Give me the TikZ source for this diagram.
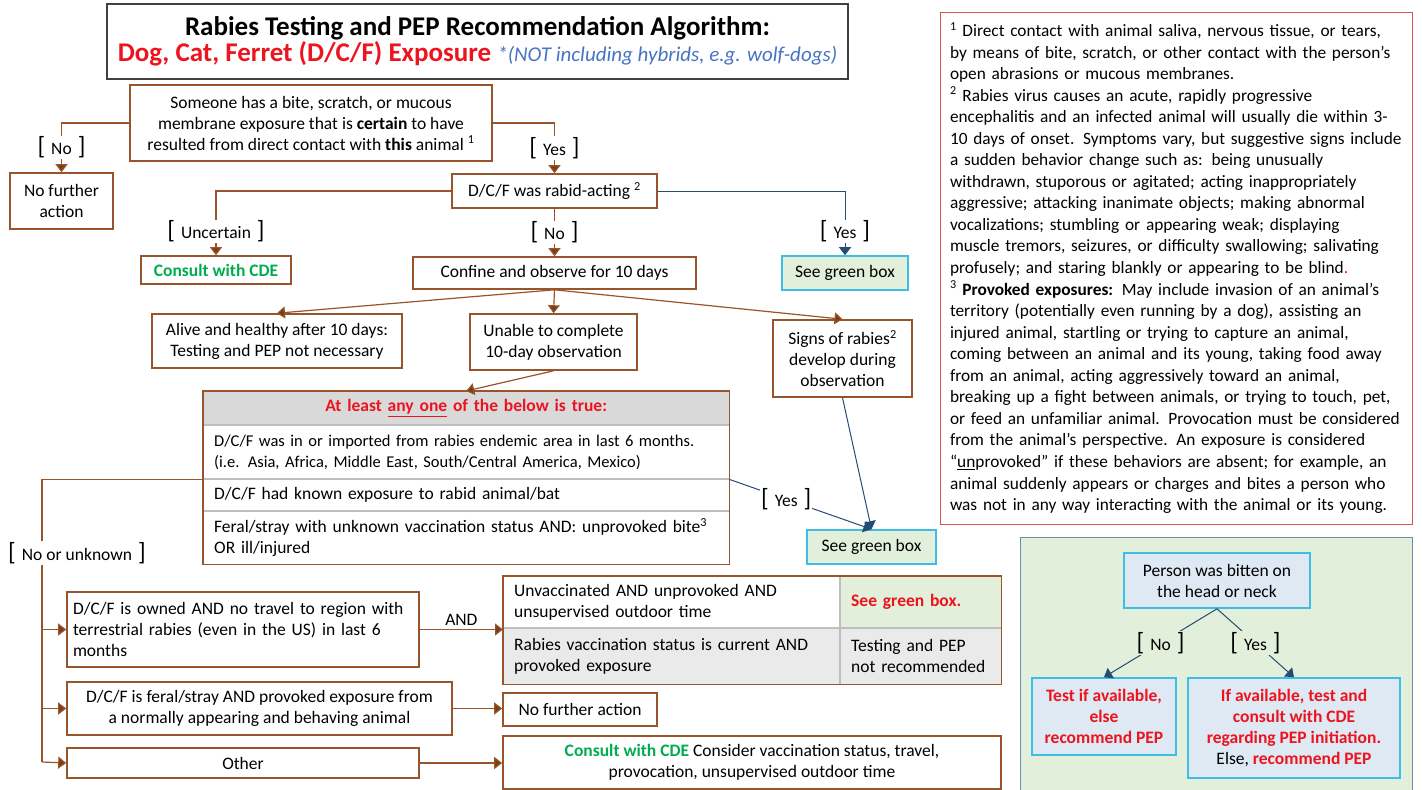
\documentclass[tikz,border=0pt]{standalone}
\usepackage{fontspec}
\setmainfont{Carlito}
\usepackage{tikz}
\usetikzlibrary{calc}
\usetikzlibrary{arrows.meta}
\usepackage{color}
\definecolor{bark}{RGB}{152, 84, 42}
\definecolor{barkdark}{RGB}{122, 62, 22}
\definecolor{sky}{RGB}{62, 190, 228}
\definecolor{navy}{RGB}{36, 76, 118}
\definecolor{mint}{RGB}{226, 239, 218}
\definecolor{ice}{RGB}{222, 233, 244}
\definecolor{alarm}{RGB}{236, 20, 30}
\definecolor{leaf}{RGB}{0, 172, 80}
\definecolor{cornflower}{RGB}{70, 116, 196}
\definecolor{notered}{RGB}{222, 80, 80}
\definecolor{slate}{RGB}{112, 140, 168}
\definecolor{rule}{RGB}{190, 190, 190}
\definecolor{hdrgray}{RGB}{217, 217, 217}
\definecolor{rowgray}{RGB}{234, 234, 234}
\newcommand{\bodyfont}{\fontsize{17.5}{21}\selectfont}
\newcommand{\tightfont}{\fontsize{16.5}{21}\selectfont}
\newcommand{\notefont}{\fontsize{17.3}{21.55}\selectfont}
\newcommand{\brk}[1]{{\fontsize{25}{25}\selectfont[}\hspace{6pt}#1\hspace{6pt}{\fontsize{25}{25}\selectfont]}}
\newcommand{\cde}{\textcolor{leaf}{\textbf{Consult with CDE}}}
\newcommand{\alert}[1]{\textcolor{alarm}{\textbf{#1}}}
\tikzset{
  box/.style     ={draw=bark, line width=1.6pt, fill=white, align=center, font=\bodyfont, inner sep=2pt},
  greenbox/.style={box, draw=sky, fill=mint},
  icebox/.style  ={box, draw=sky, fill=ice},
  cell/.style    ={anchor=north west, inner xsep=11pt, inner ysep=0pt, align=left, font=\bodyfont},
  arr/.style     ={draw=bark, line width=1.2pt, -{Triangle[width=12pt, length=8pt, fill=barkdark]}},
  barr/.style    ={draw=navy, line width=1pt, -{Triangle[width=12pt, length=8pt]}},
  lbl/.style     ={fill=white, inner sep=1pt, font=\bodyfont},
}
\begin{document}
\begin{tikzpicture}[x=1pt, y=-1pt]
  \useasboundingbox (0,0) rectangle (1422,790);
  \node[draw=black!75, line width=1.3pt, minimum width=741pt, minimum height=75pt, align=center, inner sep=0pt] (title) at (477.5,41.5)
      {\fontsize{27}{32}\selectfont\textbf{Rabies Testing and PEP Recommendation Algorithm:}\\
       \fontsize{27}{32}\selectfont\alert{Dog, Cat, Ferret (D/C/F) Exposure} {\fontsize{21}{32}\selectfont\textcolor{cornflower}{\textit{*(NOT including hybrids, e.g. wolf-dogs)}}}};
  \node[box, minimum width=362pt, minimum height=76pt] (someone)  at (311,123)
      {Someone has a bite, scratch, or mucous\\membrane exposure that is \textbf{certain} to have\\resulted from direct contact with \textbf{this} animal \textsuperscript{1}};
  \node[box, minimum width=103pt, minimum height=56pt] (nofa)     at (61.5,201)   {No further\\action};
  \node[box, minimum width=205pt, minimum height=34pt] (rabid)    at (554.5,191)  {D/C/F was rabid-acting \textsuperscript{2}};
  \node[box, minimum width=150pt, minimum height=28pt] (consult)  at (216,270)    {\cde};
  \node[box, minimum width=283pt, minimum height=32pt] (confine)  at (554.5,273)  {Confine and observe for 10 days};
  \node[greenbox, minimum width=126pt, minimum height=34pt] (seegreen) at (845,273) {See green box};
  \node[box, minimum width=250pt, minimum height=54pt] (alive)    at (277,341)    {Alive and healthy after 10 days:\\Testing and PEP not necessary};
  \node[box, minimum width=167pt, minimum height=56pt] (unable)   at (553.5,342)  {Unable to complete\\10-day observation};
  \node[box, minimum width=139pt, minimum height=77pt] (signs)    at (842.5,358.5){Signs of rabies\textsuperscript{2}\\develop during\\observation};
  \node[cell, align=center, fill=hdrgray, minimum height=34pt, text width=504pt] (hdr)  at (203,391)
      {\alert{At least \underline{any one} of the below is true:}};
  \node[cell, fill=white, minimum height=54pt, text width=504pt, font=\tightfont] (row1) at (203,425)
      {D/C/F was in or imported from rabies endemic area in last 6 months.\\(i.e. Asia, Africa, Middle East, South/Central America, Mexico)};
  \node[cell, fill=white, minimum height=32pt, text width=504pt] (row2) at (203,479)
      {D/C/F had known exposure to rabid animal/bat};
  \node[cell, fill=white, minimum height=53pt, text width=504pt] (row3) at (203,511)
      {Feral/stray with unknown vaccination status AND: unprovoked bite\textsuperscript{3}\\OR ill/injured};
  \draw[rule, line width=1.4pt] (row1.north west) -- (row1.north east);
  \draw[rule, line width=1.4pt] (row2.north west) -- (row2.north east);
  \draw[rule, line width=1.4pt] (row3.north west) -- (row3.north east);
  \draw[bark, line width=1.6pt] (hdr.north west) rectangle (row3.south east);
  \node[greenbox, minimum width=129pt, minimum height=34pt] (seegreenb) at (871.5,547) {See green box};
  \node[box, align=left, inner xsep=6pt, minimum width=352pt, minimum height=75pt, text width=340pt] (owned) at (243,629.5)
      {D/C/F is owned AND no travel to region with\\terrestrial rabies (even in the US) in last 6\\months};
  \node[box, minimum width=385pt, minimum height=53pt] (feral)    at (259.5,708.5)
      {D/C/F is feral/stray AND provoked exposure from\\a normally appearing and behaving animal};
  \node[box, minimum width=352pt, minimum height=30pt] (other)    at (243,763)    {Other};
  \node[cell, fill=white,   minimum height=52pt, text width=315pt] (c11) at (503,576) {Unvaccinated AND unprovoked AND\\unsupervised outdoor time};
  \node[cell, fill=mint,    minimum height=52pt, text width=139pt] (c12) at (840,576) {\alert{See green box.}};
  \node[cell, fill=rowgray, minimum height=56pt, text width=315pt] (c21) at (503,628) {Rabies vaccination status is current AND\\provoked exposure};
  \node[cell, fill=rowgray, minimum height=56pt, text width=139pt] (c22) at (840,628) {Testing and PEP\\not recommended};
  \draw[rule, line width=1.4pt] (c12.north west) -- (c22.south west);
  \draw[rule, line width=1.4pt] (c21.north west) -- (c22.north east);
  \draw[bark, line width=1.6pt] (c11.north west) rectangle (c22.south east);
  \node[box, minimum width=154pt, minimum height=33pt] (nofab)    at (580,709.5)  {No further action};
  \node[box, minimum width=498pt, minimum height=53pt] (consultb) at (752,762.5)
      {\cde{} Consider vaccination status, travel,\\provocation, unsupervised outdoor time};
  \node[draw=notered, line width=1pt, minimum width=472pt, minimum height=512pt, text width=452pt, align=left, font=\notefont] (notes) at (1176,268)
      {\textsuperscript{1} Direct contact with animal saliva, nervous tissue, or tears,\\
       by means of bite, scratch, or other contact with the person’s\\
       open abrasions or mucous membranes.\\
       \textsuperscript{2} Rabies virus causes an acute, rapidly progressive\\
       encephalitis and an infected animal will usually die within 3-\\
       10 days of onset. Symptoms vary, but suggestive signs include\\
       a sudden behavior change such as: being unusually\\
       withdrawn, stuporous or agitated; acting inappropriately\\
       aggressive; attacking inanimate objects; making abnormal\\
       vocalizations; stumbling or appearing weak; displaying\\
       muscle tremors, seizures, or difficulty swallowing; salivating\\
       profusely; and staring blankly or appearing to be blind\textcolor{alarm}{.}\\
       \textsuperscript{3} \textbf{Provoked exposures:} May include invasion of an animal’s\\
       territory (potentially even running by a dog), assisting an\\
       injured animal, startling or trying to capture an animal,\\
       coming between an animal and its young, taking food away\\
       from an animal, acting aggressively toward an animal,\\
       breaking up a fight between animals, or trying to touch, pet,\\
       or feed an unfamiliar animal. Provocation must be considered\\
       from the animal’s perspective. An exposure is considered\\
       “\underline{un}provoked” if these behaviors are absent; for example, an\\
       animal suddenly appears or charges and bites a person who\\
       was not in any way interacting with the animal or its young.};
  \node[draw=slate, line width=1pt, fill=mint, minimum width=392pt, minimum height=255pt] (panel) at (1216,664.5) {};
  \node[icebox, minimum width=186pt, minimum height=55pt] (person)  at (1217,580.5) {Person was bitten on\\the head or neck};
  \node[icebox, minimum width=144pt, minimum height=77pt] (testpep) at (1104,716.5)
      {\alert{Test if available,}\\\alert{else}\\\alert{recommend PEP}};
  \node[icebox, minimum width=212pt, minimum height=100pt] (ifavail) at (1294,728)
      {\alert{If available, test and}\\\alert{consult with CDE}\\\alert{regarding PEP initiation.}\\Else, \alert{recommend PEP}};

  \draw[arr] (someone.west) -| node[lbl, pos=0.75] {\brk{No}} (nofa.north);
  \draw[arr] (someone.east) -| node[lbl, pos=0.75] {\brk{Yes}} (rabid.north);
  \draw[arr] (rabid.west) -| node[lbl, pos=0.815] {\brk{Uncertain}} (consult.north);
  \draw[arr] (rabid.south) -- node[lbl] {\brk{No}} (confine.north);
  \draw[barr] (rabid.east) -| node[lbl, pos=0.815] {\brk{Yes}} (seegreen.north);
  \draw[arr] (confine.south) -- (alive.north);
  \draw[arr] (confine.south) -- (unable.north);
  \draw[arr] (confine.south) -- (signs.north);
  \draw[arr] (unable.south) -- (hdr.north);
  \draw[barr] (row1.south east) -- node[lbl, pos=0.4] {\brk{Yes}} (seegreenb.north);
  \draw[barr] (signs.south) -- (seegreenb.north);
  \coordinate (trunk) at (42,762);
  \draw[bark, line width=1.2pt] (row1.south west) -| (trunk);
  \node[lbl] (nounknown) at (77,553) {\brk{No or unknown}};
  \draw[arr] (trunk |- owned.west) -- (owned.west);
  \draw[arr] (trunk |- feral.west) -- (feral.west);
  \draw[arr] (trunk) -- (other.west);
  \draw[arr] (owned.east) -- node[above, font=\bodyfont] {AND} (owned.east -| c21.west);
  \draw[arr] (feral.east) -- (feral.east -| nofab.west);
  \draw[arr] (other.east) -- (other.east -| consultb.west);
  \draw[barr] (person.south) -- node[lbl, fill=mint] {\brk{No}} (testpep.north);
  \draw[barr] (person.south) -- node[lbl, fill=mint] {\brk{Yes}} (ifavail.north);
\end{tikzpicture}
\end{document}
